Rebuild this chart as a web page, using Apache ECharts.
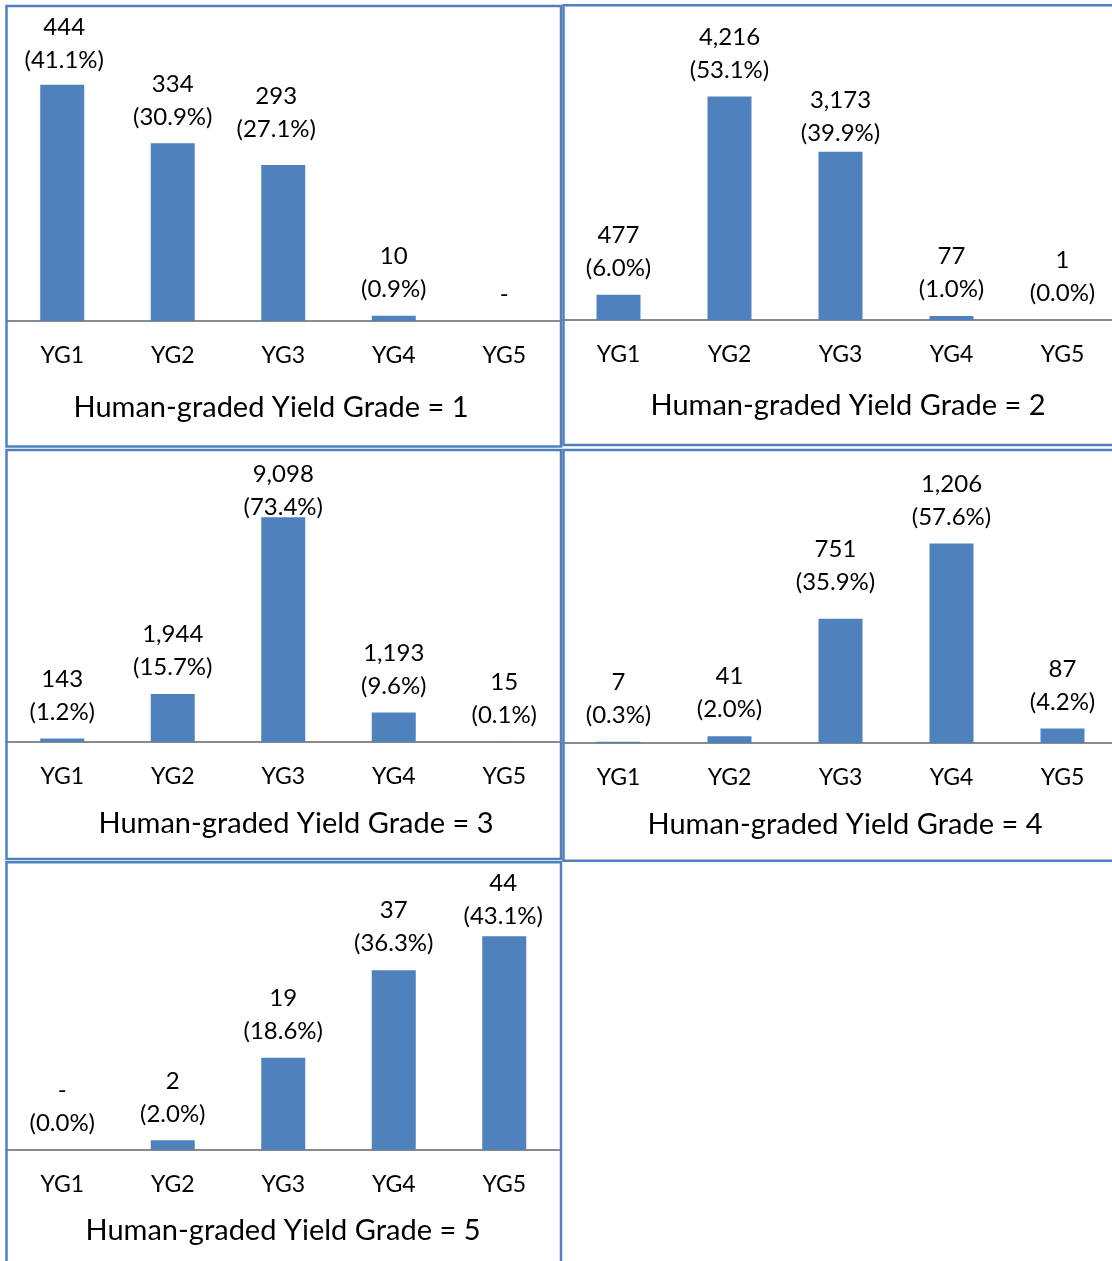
<!DOCTYPE html>
<html>
<head>
<meta charset="utf-8">
<script src="https://cdn.jsdelivr.net/npm/echarts@6/dist/echarts.min.js"></script>
<style>
  html, body { margin: 0; padding: 0; background: #fff; overflow: hidden; }
  #chart { width: 1124px; height: 1261px; }
</style>
</head>
<body>
<div id="chart"></div>
<script>
// Machine-predicted yield grade (YG1..YG5) for each human-graded yield grade
const categories = ['YG1', 'YG2', 'YG3', 'YG4', 'YG5'];

const countsGrade1 = [444, 334, 293, 10, 0];
const countsGrade2 = [477, 4216, 3173, 77, 1];
const countsGrade3 = [143, 1944, 9098, 1193, 15];
const countsGrade4 = [7, 41, 751, 1206, 87];
const countsGrade5 = [0, 2, 19, 37, 44];

const pctGrade1 = [41.1, 30.9, 27.1, 0.9, null];
const pctGrade2 = [6.0, 53.1, 39.9, 1.0, 0.0];
const pctGrade3 = [1.2, 15.7, 73.4, 9.6, 0.1];
const pctGrade4 = [0.3, 2.0, 35.9, 57.6, 4.2];
const pctGrade5 = [0.0, 2.0, 18.6, 36.3, 43.1];

const panelTitles = [
  'Human-graded Yield Grade = 1',
  'Human-graded Yield Grade = 2',
  'Human-graded Yield Grade = 3',
  'Human-graded Yield Grade = 4',
  'Human-graded Yield Grade = 5'
];

const yMax = [500, 5000, 10000, 1500, 50];

// ---- layout ----
const FONT = 'Lato, "Open Sans", sans-serif';
const BLUE = '#4F81BD';
const panels = [
  { counts: countsGrade1, pct: pctGrade1, grid: { left: 7, top: 55, width: 552.5, height: 266 },
    box: [6.5, 6, 561, 446.5], titlePos: [271, 408],
    nudge: { 0: [2, 2], 2: [-7, -9] } },
  { counts: countsGrade2, pct: pctGrade2, grid: { left: 563, top: 55, width: 555, height: 265 },
    box: [563.5, 5.3, 1135, 445], titlePos: [848, 406],
    nudge: { 2: [0, 8] } },
  { counts: countsGrade3, pct: pctGrade3, grid: { left: 7, top: 495, width: 552.5, height: 247 },
    box: [6.5, 450, 561, 859], titlePos: [296, 824],
    nudge: { 2: [0, 16] } },
  { counts: countsGrade4, pct: pctGrade4, grid: { left: 563, top: 495, width: 555, height: 248 },
    box: [563.5, 450, 1135, 860.7], titlePos: [845, 825],
    nudge: { 2: [-5, -10] } },
  { counts: countsGrade5, pct: pctGrade5, grid: { left: 7, top: 907, width: 552.5, height: 243 },
    box: [6.5, 862.3, 561, 1275], titlePos: [283, 1231],
    nudge: { 4: [-1, 7] } }
];

function fmtCount(v) {
  return v === 0 ? '-' : v.toLocaleString('en-US');
}

const grids = [], xAxes = [], yAxes = [], series = [], graphics = [];

panels.forEach((p, i) => {
  grids.push(Object.assign({ containLabel: false }, p.grid));
  xAxes.push({
    type: 'category', gridIndex: i, data: categories,
    axisLine: { show: true, lineStyle: { color: '#8a8a8a', width: 2 } },
    axisTick: { show: false },
    axisLabel: { color: '#000', fontFamily: FONT, fontSize: 23, margin: 23 }
  });
  yAxes.push({
    type: 'value', gridIndex: i, min: 0, max: yMax[i],
    show: false, splitLine: { show: false }
  });
  series.push({
    type: 'bar', xAxisIndex: i, yAxisIndex: i, barWidth: 44,
    itemStyle: { color: BLUE },
    data: p.counts.map((v, k) => {
      const item = { value: v };
      if (p.nudge[k]) item.label = { offset: p.nudge[k] };
      return item;
    }),
    label: {
      show: true, position: 'top', distance: 10,
      color: '#000', fontFamily: FONT, fontSize: 24, lineHeight: 33,
      formatter: (prm) => {
        const k = prm.dataIndex;
        const pc = p.pct[k];
        const top = fmtCount(p.counts[k]);
        return pc === null ? top : top + '\n(' + pc.toFixed(1) + '%)';
      }
    }
  });
  const [x0, y0, x1, y1] = p.box;
  graphics.push({
    type: 'rect', silent: true, z: 10,
    shape: { x: x0, y: y0, width: x1 - x0, height: y1 - y0 },
    style: { fill: null, stroke: BLUE, lineWidth: 2.5 }
  });
  graphics.push({
    type: 'text', silent: true, z: 10,
    x: p.titlePos[0], y: p.titlePos[1],
    style: {
      text: panelTitles[i], fill: '#000', font: '29px ' + FONT,
      align: 'center', verticalAlign: 'middle'
    }
  });
});

const chart = echarts.init(document.getElementById('chart'), null, { renderer: 'canvas' });
chart.setOption({
  animation: false,
  backgroundColor: '#fff',
  grid: grids, xAxis: xAxes, yAxis: yAxes, series: series,
  graphic: graphics
});
</script>
</body>
</html>
